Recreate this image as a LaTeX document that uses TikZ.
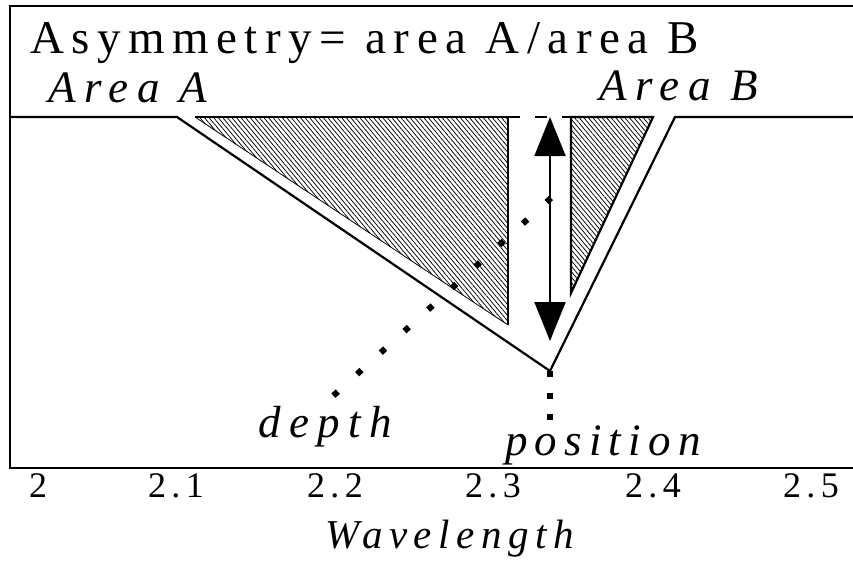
\documentclass[tikz,border=0pt]{standalone}
\usepackage{fontspec}
\setmainfont[LetterSpace=15]{Liberation Serif}
\usetikzlibrary{arrows.meta,patterns.meta}

\begin{document}
\begin{tikzpicture}[x=1pt,y=-1pt,
  thickline/.style={line width=2.2pt},
  hatch/.style={pattern={Lines[angle=-50,distance=3.5pt,line width=0.75pt]}},
  dotline/.style={line width=6pt,dash pattern=on 6pt off 26pt},
  tag/.style={inner sep=0pt,anchor=base west},
  bigit/.style={font=\itshape\fontsize{45}{48}\selectfont\addfontfeatures{LetterSpace=#1}},
  bigit/.default=19]
  \useasboundingbox (0,0) rectangle (853,560);
  % corners of the band
  \coordinate (L) at (10,117);    % continuum, left
  \coordinate (S) at (177,117);   % left wing starts
  \coordinate (M) at (550,371);   % band minimum
  \coordinate (E) at (675,117);   % right wing ends
  \coordinate (R) at (853,117);   % continuum, right
  % area A
  \coordinate (A1) at (195,117);
  \coordinate (A2) at (508,117);
  \coordinate (A3) at (508,325);
  % area B
  \coordinate (B1) at (571,117);
  \coordinate (B2) at (653,117);
  \coordinate (B3) at (571,293);
  % hatched areas
  \fill[hatch] (A1) -- (A2) -- (A3) -- cycle;
  \fill[hatch] (B1) -- (B2) -- (B3) -- cycle;
  \draw[line width=0.8pt] (A1) -- (A3);
  \draw[thickline] (A1) -- (A2) -- (A3);
  \draw[thickline] (B3) -- (B1) -- (B2) -- cycle;
  \draw[thickline, dash pattern=on 12pt off 15pt] (A2) -- (B1);
  % frame and band
  \draw[thickline] (853,6) -- (10,6) -- (10,468) -- (853,468);
  \draw[thickline] (L) -- (S) -- (M) -- (E) -- (R);
  % depth arrow
  \coordinate (top) at (550,117);
  \coordinate (bot) at (550,341);
  \draw[line width=2pt, {Triangle[length=39pt,width=31pt]}-{Triangle[length=39pt,width=31pt]}] (top) -- (bot);
  % labels
  \node[tag, font=\fontsize{47}{50}\selectfont\addfontfeatures{LetterSpace=16}] (title) at (30,53) {Asymmetry= area A/area B};
  \node[tag, bigit] (areaA) at (48,102) {Area A};
  \node[tag, bigit] (areaB) at (599,100) {Area B};
  \node[tag, bigit] (depth) at (258,437) {depth};
  \node[tag, bigit=16] (position) at (505,455) {position};
  \node[tag, font=\itshape\fontsize{41}{44}\selectfont\addfontfeatures{LetterSpace=16}] (wave) at (325,548) {Wavelength};
  \foreach \v/\x in {2/38, 2.1/176, 2.2/335, 2.3/493, 2.4/653, 2.5/811}
    \node[inner sep=0pt, anchor=base, font=\fontsize{36}{38}\selectfont] (tick\x) at (\x,497) {\v};
  % leaders
  \coordinate (dtop) at (551,198);
  \coordinate (dbot) at (333,396);
  \draw[dotline] (dtop) -- (dbot);
  \draw[line width=6pt, dash pattern=on 6pt off 15.5pt] (M) -- (M |- position.north);
\end{tikzpicture}
\end{document}
